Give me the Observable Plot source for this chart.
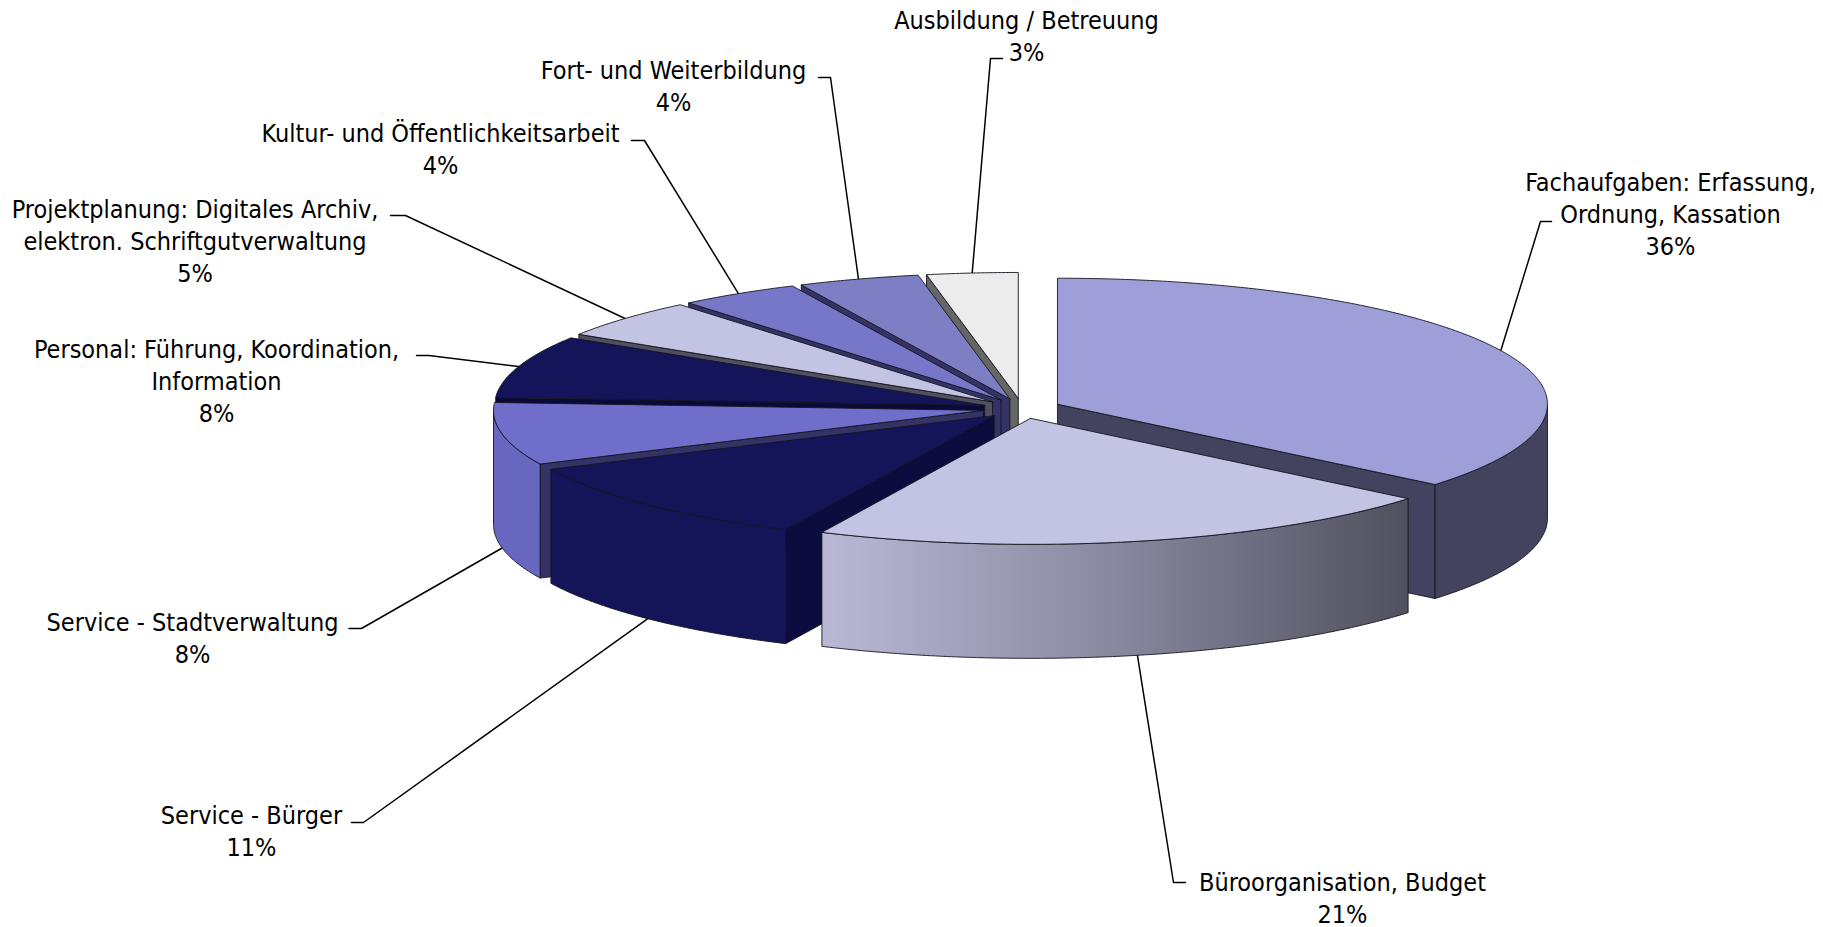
<!DOCTYPE html>
<html lang="de">
<head>
<meta charset="utf-8">
<title>Aufgabenverteilung</title>
<style>
  html, body { margin: 0; padding: 0; background: #fff; overflow: hidden; }
  svg { display: block; }
</style>
<script src="https://cdn.jsdelivr.net/npm/d3@7"></script>
<script src="https://cdn.jsdelivr.net/npm/@observablehq/plot@0.6"></script>
</head>
<body>
<div id="chart"></div>
<script>
// ---- data ----
const categories = [
  "Fachaufgaben: Erfassung,\nOrdnung, Kassation",
  "Büroorganisation, Budget",
  "Service - Bürger",
  "Service - Stadtverwaltung",
  "Personal: Führung, Koordination,\nInformation",
  "Projektplanung: Digitales Archiv,\nelektron. Schriftgutverwaltung",
  "Kultur- und Öffentlichkeitsarbeit",
  "Fort- und Weiterbildung",
  "Ausbildung / Betreuung"
];
const shares = [36, 21, 11, 8, 8, 5, 4, 4, 3];

// ---- styles ----
const topColors  = ["#9e9ed8", "#c3c3e3", "#141459", "#6f6fcb", "#14145a", "#c3c3e3", "#7777c9", "#7e7ec4", "#ececec"];
const wallColors = ["#43435f", "url(#wallGradient)", "#141459", "#6767c0", "#14145a", "#c3c3e3", "#7777c9", "#7e7ec4", "#ececec"];
const sideColors = ["#43435f", "#50505e", "#0c0c3e", "#333366", "#0a0a3a", "#50505f", "#333366", "#333366", "#666666"];

// ---- layout ----
const pie = {cx: 1021.5, cy: 408, rx: 490, ry: 126, depth: 114, explode: 0.08};
const labelX = [1670, 1342, 251, 192, 216, 194.5, 440, 673, 1026];
const labelY = [212, 896, 829, 636, 379, 239, 147.5, 84.5, 34];
const elbowX = [1540, 1173, 363, 361, 428.5, 405, 644, 830, 990];
const elbowY = [221, 882, 822, 628, 355, 215, 140, 77, 58];
const leaderEndX = [1551, 1185, 351, 348.5, 416, 390, 631, 818, 1002];
const paintOrder = [0, 8, 7, 6, 5, 4, 3, 2, 1];

// ---- pie geometry, derived from the shares ----
const rad = d => d * Math.PI / 180;
const total = d3.sum(shares);
const cumulative = d3.cumsum(shares);
const slices = shares.map((s, i) => {
  const a1 = cumulative[i] / total * 360;
  const a0 = a1 - s / total * 360;
  const mid = (a0 + a1) / 2;
  const ax = pie.cx + pie.explode * pie.rx * Math.sin(rad(mid));
  const ay = pie.cy - pie.explode * pie.ry * Math.cos(rad(mid));
  const rim = (a, drop = 0) => ({
    x: ax + pie.rx * Math.sin(rad(a)),
    y: ay - pie.ry * Math.cos(rad(a)) + drop
  });
  return {i, a0, a1, mid, ax, ay, rim};
});
const arc = (s, a0, a1, drop = 0) => {
  const n = Math.max(2, Math.ceil((a1 - a0) / 0.5));
  return d3.range(n + 1).map(k => s.rim(a0 + (a1 - a0) * k / n, drop));
};

const facePoints = [];
function addFace(id, fill, pts) {
  const closed = [...pts, pts[0]];
  closed.forEach(p => facePoints.push({id, fill, x: p.x, y: p.y}));
}
for (const i of paintOrder) {
  const s = slices[i];
  const apex = {x: s.ax, y: s.ay};
  const apexLow = {x: s.ax, y: s.ay + pie.depth};
  // radial wall facing the viewer
  const cut = Math.sin(rad(s.a0)) < -1e-9 ? s.a0 : Math.sin(rad(s.a1)) > 1e-9 ? s.a1 : null;
  if (cut !== null) addFace(`side${i}`, sideColors[i], [apex, s.rim(cut), s.rim(cut, pie.depth), apexLow]);
  // outer wall on the front half of the rim
  const w0 = Math.max(s.a0, 90), w1 = Math.min(s.a1, 270);
  if (w1 > w0) addFace(`wall${i}`, wallColors[i], [...arc(s, w0, w1), ...arc(s, w0, w1, pie.depth).reverse()]);
  // top face
  addFace(`top${i}`, topColors[i], [apex, ...arc(s, s.a0, s.a1)]);
}

// leaders start on the rim at each slice's middle angle
const leaderPoints = slices.flatMap((s, i) => {
  const onFront = s.mid > 90 && s.mid < 270;
  const start = s.rim(s.mid, onFront ? pie.depth : 0);
  return [start, {x: elbowX[i], y: elbowY[i]}, {x: leaderEndX[i], y: elbowY[i]}]
    .map(p => ({id: i, x: p.x, y: p.y}));
});

const labels = categories.map((c, i) => ({
  text: `${c}\n${shares[i]}%`, x: labelX[i], y: labelY[i]
}));

const plot = Plot.plot({
  width: 1823, height: 927,
  marginTop: 0, marginRight: 0, marginBottom: 0, marginLeft: 0,
  style: {background: "#fff", overflow: "visible"},
  x: {domain: [0, 1823], range: [0, 1823], axis: null},
  y: {domain: [0, 927], range: [0, 927], axis: null},
  color: {type: "identity"},
  marks: [
    Plot.line(leaderPoints, {x: "x", y: "y", z: "id", stroke: "#000", strokeWidth: 1.5, curve: "linear"}),
    Plot.line(facePoints, {
      x: "x", y: "y", z: "id", fill: "fill",
      stroke: "#15151f", strokeWidth: 0.9, strokeLinejoin: "round", curve: "linear"
    }),
    Plot.text(labels, {
      x: "x", y: "y", text: "text", textAnchor: "middle", lineAnchor: "middle",
      lineHeight: 1.28, fontSize: 25, fill: "#000",
      fontFamily: "'DejaVu Sans Condensed', 'DejaVu Sans', sans-serif",
      fontStretch: "condensed"
    })
  ]
});

// horizontal shading of the front wall of the second slice
const defs = d3.create("svg:defs");
const gradient = defs.append("linearGradient").attr("id", "wallGradient")
  .attr("x1", 0).attr("y1", 0).attr("x2", 1).attr("y2", 0);
gradient.append("stop").attr("offset", "0%").attr("stop-color", "#b9b9d6");
gradient.append("stop").attr("offset", "50%").attr("stop-color", "#88889f");
gradient.append("stop").attr("offset", "100%").attr("stop-color", "#50505e");
plot.insertBefore(defs.node(), plot.firstChild);

document.getElementById("chart").appendChild(plot);
</script>
</body>
</html>
